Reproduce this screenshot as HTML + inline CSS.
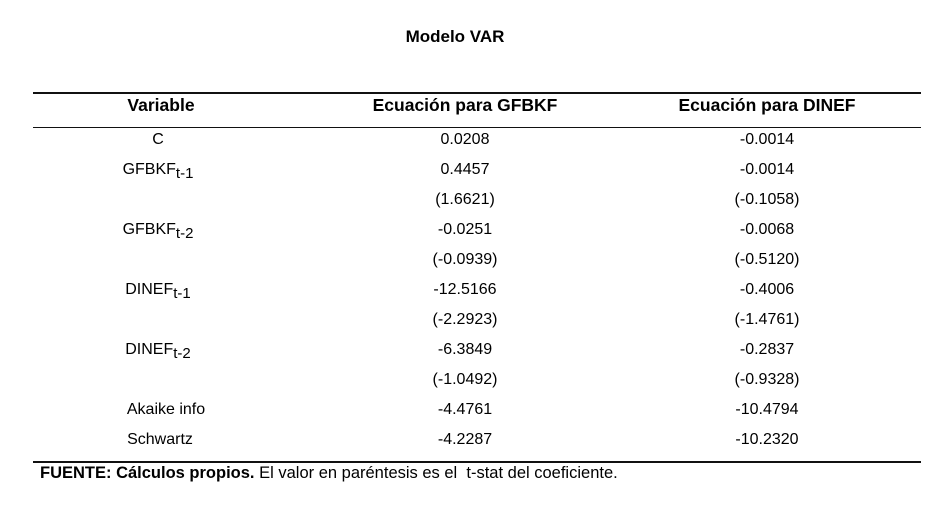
<!DOCTYPE html>
<html><head><meta charset="utf-8"><style>
body{margin:0;width:947px;height:521px;background:#fff;position:relative;overflow:hidden;font-family:"Liberation Sans",Arial,sans-serif;color:#000}
.t{position:absolute;white-space:nowrap;transform:translateX(-50%);font-size:16px;line-height:18px}
.b{font-weight:bold}
.line{position:absolute;background:#111}
sub{font-size:15px;vertical-align:-4px;line-height:0}
</style></head><body>
<div class="t b" style="left:455px;top:28px;font-size:17px">Modelo VAR</div>
<div class="line" style="left:33px;top:92px;width:888px;height:2px"></div>
<div class="t b" style="left:161px;top:96px;font-size:17.5px">Variable</div>
<div class="t b" style="left:465px;top:96px;font-size:17.5px">Ecuación para GFBKF</div>
<div class="t b" style="left:767px;top:96px;font-size:17.5px">Ecuación para DINEF</div>
<div class="line" style="left:33px;top:127px;width:888px;height:1px"></div>

<div class="t" style="left:158px;top:131px">C</div>
<div class="t" style="left:158px;top:161px">GFBKF<sub>t-1</sub></div>
<div class="t" style="left:158px;top:221px">GFBKF<sub>t-2</sub></div>
<div class="t" style="left:158px;top:281px">DINEF<sub>t-1</sub></div>
<div class="t" style="left:158px;top:341px">DINEF<sub>t-2</sub></div>
<div class="t" style="left:166px;top:401px">Akaike info</div>
<div class="t" style="left:160px;top:431px">Schwartz</div>

<div class="t" style="left:465px;top:131px">0.0208</div>
<div class="t" style="left:465px;top:161px">0.4457</div>
<div class="t" style="left:465px;top:191px">(1.6621)</div>
<div class="t" style="left:465px;top:221px">-0.0251</div>
<div class="t" style="left:465px;top:251px">(-0.0939)</div>
<div class="t" style="left:465px;top:281px">-12.5166</div>
<div class="t" style="left:465px;top:311px">(-2.2923)</div>
<div class="t" style="left:465px;top:341px">-6.3849</div>
<div class="t" style="left:465px;top:371px">(-1.0492)</div>
<div class="t" style="left:465px;top:401px">-4.4761</div>
<div class="t" style="left:465px;top:431px">-4.2287</div>

<div class="t" style="left:767px;top:131px">-0.0014</div>
<div class="t" style="left:767px;top:161px">-0.0014</div>
<div class="t" style="left:767px;top:191px">(-0.1058)</div>
<div class="t" style="left:767px;top:221px">-0.0068</div>
<div class="t" style="left:767px;top:251px">(-0.5120)</div>
<div class="t" style="left:767px;top:281px">-0.4006</div>
<div class="t" style="left:767px;top:311px">(-1.4761)</div>
<div class="t" style="left:767px;top:341px">-0.2837</div>
<div class="t" style="left:767px;top:371px">(-0.9328)</div>
<div class="t" style="left:767px;top:401px">-10.4794</div>
<div class="t" style="left:767px;top:431px">-10.2320</div>

<div class="line" style="left:33px;top:461px;width:888px;height:2px"></div>
<div style="position:absolute;left:40px;top:464px;font-size:16.5px;white-space:nowrap"><b>FUENTE: Cálculos propios.</b> El valor en paréntesis es el &nbsp;t-stat del coeficiente.</div>
</body></html>
